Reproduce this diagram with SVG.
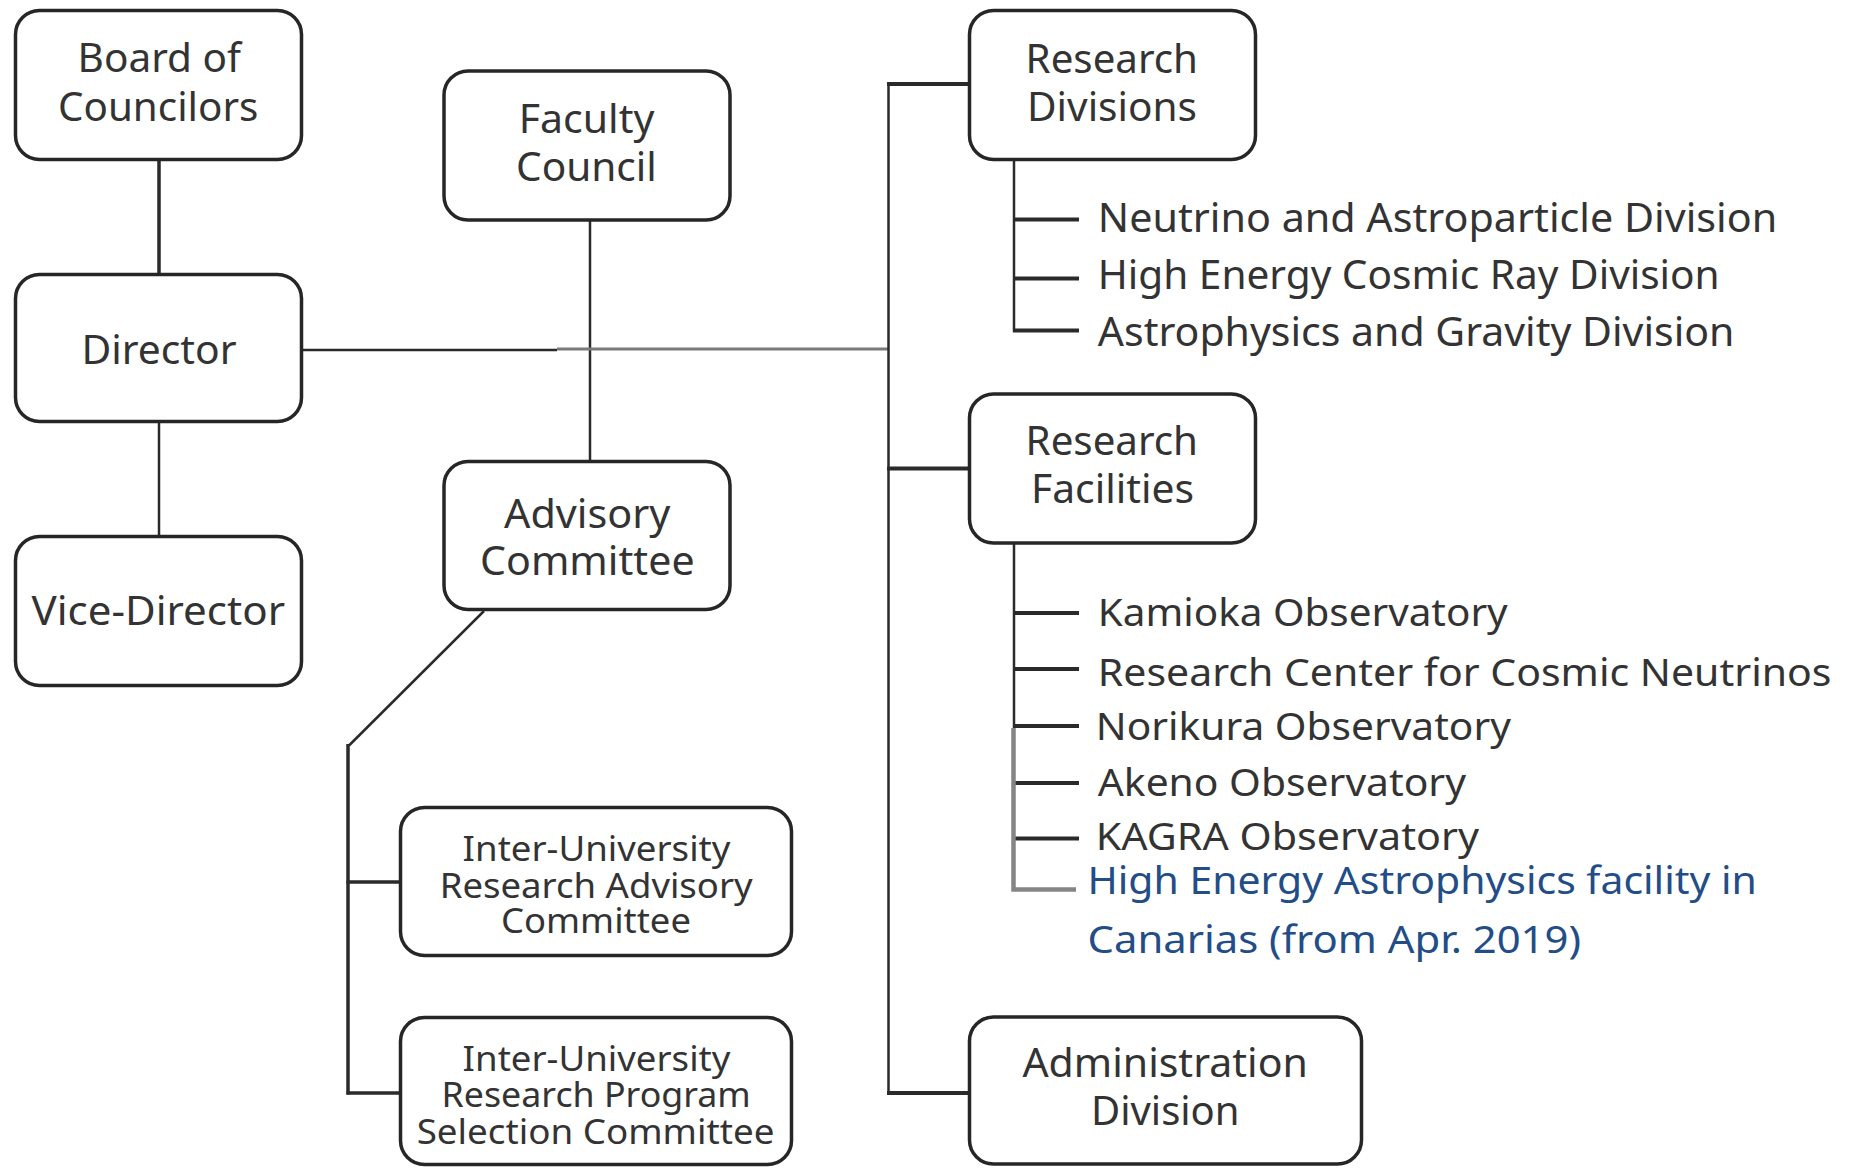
<svg xmlns="http://www.w3.org/2000/svg" width="1851" height="1168" viewBox="0 0 1851 1168">
<style>
.box{fill:#fff;stroke:#262626;stroke-width:3.5}
.t{font-family:"Noto Sans","Open Sans",sans-serif;font-size:40px;fill:#333}
.s{font-size:35px}
.f{font-size:39px}
.b{font-family:"Noto Sans","Open Sans",sans-serif;font-size:38px;fill:#234d86}
.ln{stroke:#2a2a2a;fill:none;stroke-linecap:butt}
.thin{stroke-width:2.5}
.thick{stroke-width:4}
.gray{stroke:#7a7a7a;stroke-width:3}
.gr2{stroke:#858585;stroke-width:4.5;fill:none}
</style>
<rect width="1851" height="1168" fill="#fff"/>
<g id="connectors">
<line class="ln" x1="159" y1="160" x2="159" y2="274" stroke-width="3.5"/>
<line class="ln thin" x1="159" y1="422" x2="159" y2="536"/>
<line class="ln thin" x1="590" y1="221" x2="590" y2="461"/>
<line class="ln thin" x1="302" y1="350" x2="557" y2="350"/>
<line class="ln gray" x1="557" y1="349" x2="889" y2="349"/>
<line class="ln thin" x1="888.5" y1="83" x2="888.5" y2="1094"/>
<line class="ln thick" x1="887" y1="84" x2="969" y2="84"/>
<line class="ln thick" x1="887" y1="468.5" x2="969" y2="468.5"/>
<line class="ln thick" x1="887" y1="1093" x2="969" y2="1093"/>
<line class="ln thin" x1="1014" y1="160" x2="1014" y2="332"/>
<line class="ln thick" x1="1013" y1="219.6" x2="1079" y2="219.6"/>
<line class="ln thick" x1="1013" y1="278.6" x2="1079" y2="278.6"/>
<line class="ln thick" x1="1013" y1="330.4" x2="1079" y2="330.4"/>
<line class="ln thin" x1="1014" y1="543" x2="1014" y2="728"/>
<line class="ln thick" x1="1013" y1="613" x2="1079" y2="613"/>
<line class="ln thick" x1="1013" y1="669" x2="1079" y2="669"/>
<line class="ln thick" x1="1013" y1="726" x2="1079" y2="726"/>
<line class="ln thick" x1="1013" y1="783" x2="1079" y2="783"/>
<line class="ln thick" x1="1013" y1="838.4" x2="1079" y2="838.4"/>
<polyline class="gr2" points="1013.5,728 1013.5,889.5 1076,889.5"/>
<line class="ln thin" x1="484" y1="611" x2="349" y2="745.5"/>
<line class="ln" x1="348" y1="744" x2="348" y2="1094.5" stroke-width="3.5"/>
<line class="ln" x1="346.5" y1="882" x2="401" y2="882" stroke-width="3.5"/>
<line class="ln" x1="346.5" y1="1093" x2="401" y2="1093" stroke-width="3.5"/>
</g>
<g id="board">
<rect class="box" x="15.5" y="10.5" width="286" height="149" rx="24"/>
<text class="t" x="77.6" y="72.3" textLength="163.4" lengthAdjust="spacingAndGlyphs">Board of</text>
<text class="t" x="58" y="120.5" textLength="200.4" lengthAdjust="spacingAndGlyphs">Councilors</text>
</g>
<g id="director">
<rect class="box" x="15.5" y="274.5" width="286" height="147" rx="24"/>
<text class="t" x="81.4" y="363.8" textLength="155.1" lengthAdjust="spacingAndGlyphs">Director</text>
</g>
<g id="vice-director">
<rect class="box" x="15.5" y="536.5" width="286" height="149" rx="24"/>
<text class="t" x="31.5" y="625" textLength="253.5" lengthAdjust="spacingAndGlyphs">Vice-Director</text>
</g>
<g id="faculty-council">
<rect class="box" x="444" y="71" width="286" height="149" rx="24"/>
<text class="t" x="518.7" y="133" textLength="135.7" lengthAdjust="spacingAndGlyphs">Faculty</text>
<text class="t" x="516" y="180.8" textLength="140.8" lengthAdjust="spacingAndGlyphs">Council</text>
</g>
<g id="advisory-committee">
<rect class="box" x="444" y="461.5" width="286" height="148" rx="24"/>
<text class="t" x="504" y="528" textLength="166.4" lengthAdjust="spacingAndGlyphs">Advisory</text>
<text class="t" x="480" y="574.5" textLength="214.6" lengthAdjust="spacingAndGlyphs">Committee</text>
</g>
<g id="iu-advisory">
<rect class="box" x="400.5" y="807.5" width="391" height="148" rx="24"/>
<text class="t s" x="462.6" y="860.9" textLength="267.9" lengthAdjust="spacingAndGlyphs">Inter-University</text>
<text class="t s" x="439.7" y="897.8" textLength="313" lengthAdjust="spacingAndGlyphs">Research Advisory</text>
<text class="t s" x="500.9" y="933.3" textLength="190.1" lengthAdjust="spacingAndGlyphs">Committee</text>
</g>
<g id="iu-selection">
<rect class="box" x="400.5" y="1017.5" width="391" height="147" rx="24"/>
<text class="t s" x="462.6" y="1071" textLength="267.9" lengthAdjust="spacingAndGlyphs">Inter-University</text>
<text class="t s" x="441.6" y="1107.2" textLength="309.2" lengthAdjust="spacingAndGlyphs">Research Program</text>
<text class="t s" x="416.7" y="1143.5" textLength="357.8" lengthAdjust="spacingAndGlyphs">Selection Committee</text>
</g>
<g id="research-divisions">
<rect class="box" x="969.5" y="10.5" width="286" height="149" rx="24"/>
<text class="t" x="1025.6" y="73.2" textLength="172.4" lengthAdjust="spacingAndGlyphs">Research</text>
<text class="t" x="1027" y="121.4" textLength="170" lengthAdjust="spacingAndGlyphs">Divisions</text>
</g>
<g id="divisions-list">
<text class="t" x="1097.8" y="232" textLength="679.4" lengthAdjust="spacingAndGlyphs">Neutrino and Astroparticle Division</text>
<text class="t" x="1097.8" y="288.6" textLength="621.9" lengthAdjust="spacingAndGlyphs">High Energy Cosmic Ray Division</text>
<text class="t" x="1097.8" y="345.7" textLength="636.6" lengthAdjust="spacingAndGlyphs">Astrophysics and Gravity Division</text>
</g>
<g id="research-facilities">
<rect class="box" x="969.5" y="394" width="286" height="149" rx="24"/>
<text class="t" x="1025.6" y="455" textLength="172.4" lengthAdjust="spacingAndGlyphs">Research</text>
<text class="t" x="1031" y="503" textLength="163" lengthAdjust="spacingAndGlyphs">Facilities</text>
</g>
<g id="facilities-list">
<text class="t f" x="1097.8" y="626" textLength="409.9" lengthAdjust="spacingAndGlyphs">Kamioka Observatory</text>
<text class="t f" x="1097.8" y="686" textLength="733.7" lengthAdjust="spacingAndGlyphs">Research Center for Cosmic Neutrinos</text>
<text class="t f" x="1095.8" y="740" textLength="415.2" lengthAdjust="spacingAndGlyphs">Norikura Observatory</text>
<text class="t f" x="1097.8" y="796" textLength="368.2" lengthAdjust="spacingAndGlyphs">Akeno Observatory</text>
<text class="t f" x="1095.8" y="850" textLength="383.2" lengthAdjust="spacingAndGlyphs">KAGRA Observatory</text>
<text class="b" x="1087.5" y="894.4" textLength="669.3" lengthAdjust="spacingAndGlyphs">High Energy Astrophysics facility in</text>
<text class="b" x="1087.5" y="952.5" textLength="493.5" lengthAdjust="spacingAndGlyphs">Canarias (from Apr. 2019)</text>
</g>
<g id="administration-division">
<rect class="box" x="969.5" y="1017" width="392" height="147" rx="24"/>
<text class="t" x="1022.4" y="1076.6" textLength="285.5" lengthAdjust="spacingAndGlyphs">Administration</text>
<text class="t" x="1091" y="1124.7" textLength="148.5" lengthAdjust="spacingAndGlyphs">Division</text>
</g>
</svg>
